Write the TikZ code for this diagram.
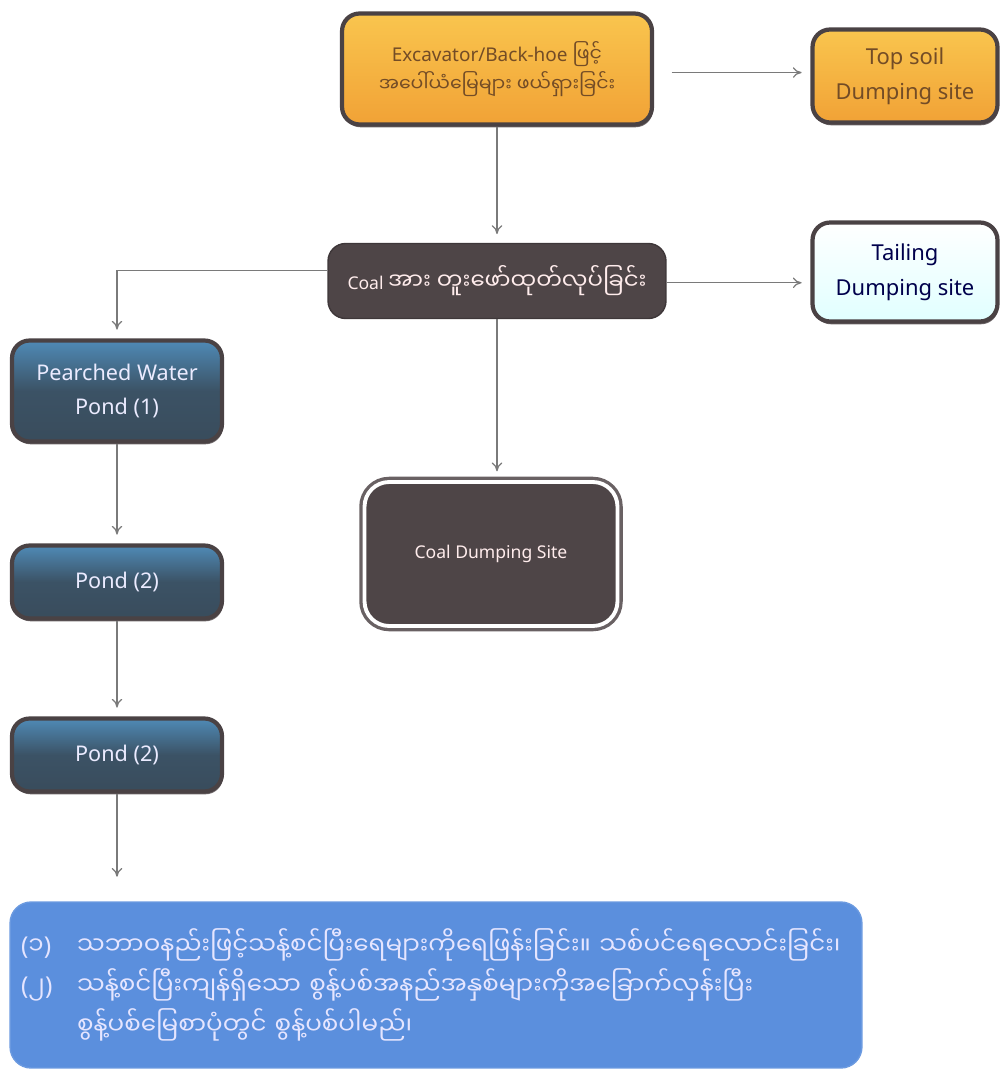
\documentclass[tikz,border=0pt]{standalone}
\usepackage{fontspec}
\setmainfont{Noto Sans}
\newfontfamily\mya[Script=Myanmar]{Noto Sans Myanmar UI}
\newcommand{\lat}[1]{{\rmfamily #1}}
\usetikzlibrary{arrows.meta,shadows}

\definecolor{edgegray}{HTML}{4A4244}
\definecolor{coalbrown}{HTML}{4E4547}
\definecolor{orangetop}{HTML}{F9C54E}
\definecolor{orangebot}{HTML}{F1A236}
\definecolor{pondtop}{HTML}{4F8AB6}
\definecolor{pondbot}{HTML}{394C5C}
\definecolor{notefill}{HTML}{5B8FDD}
\definecolor{linegray}{HTML}{7A7A7A}

\tikzstyle{box}=[rounded corners=10, draw=edgegray, line width=2.4pt, align=center,
  drop shadow={shadow xshift=0.6pt, shadow yshift=-1.6pt, fill=edgegray, opacity=.8}]
\tikzstyle{orangebox}=[box, top color=orangetop, bottom color=orangebot, text=brown!60!black]
\tikzstyle{pondbox}=[box, top color=pondtop, bottom color=pondbot, middle color=pondbot!90!pondtop,
  text=white!92!blue, font=\fontsize{12.3}{19}\selectfont]
\tikzstyle{tailbox}=[box, top color=white, bottom color=cyan!12, text=black!70!blue]
\tikzstyle{coalbox}=[rounded corners=10, fill=coalbrown, draw=coalbrown!80!black, line width=0.8pt, text=pink!30!white, align=center]
\tikzstyle{dumpbox}=[rounded corners=14, fill=coalbrown, draw=white, line width=2.2pt, text=pink!30!white,
  preaction={draw=coalbrown!85!white, line width=6pt}]
\tikzstyle{notebox}=[rounded corners=12, fill=notefill, draw=notefill!90!white, line width=0.8pt, text=white!90!blue, align=left]
\tikzstyle{flow}=[linegray, line width=0.7pt, -{To[length=5pt,width=6pt]}, shorten >=5pt]

\begin{document}
\begin{tikzpicture}[x=0.02cm, y=-0.02cm, font=\fontsize{10}{16}\selectfont]
  \useasboundingbox (0,0) rectangle (1003,1074);
  \node[orangebox, minimum width=6.2cm, minimum height=2.22cm, font=\fontsize{10.8}{17}\selectfont] (exc) at (497,69)
    {Excavator/Back-hoe {\mya ဖြင့်}\\{\mya အပေါ်ယံမြေများ ဖယ်ရှားခြင်း}};
  \node[orangebox, minimum width=3.7cm, minimum height=1.86cm, font=\fontsize{12.5}{20}\selectfont] (top) at (905,76)
    {Top soil\\Dumping site};
  \node[coalbox, minimum width=6.76cm, minimum height=1.5cm] (coal) at (497,281)
    {Coal {\mya\fontsize{13}{16}\selectfont အား တူးဖော်ထုတ်လုပ်ခြင်း}};
  \node[tailbox, minimum width=3.7cm, minimum height=1.98cm, font=\fontsize{12.5}{20}\selectfont] (tail) at (905,272)
    {Tailing\\Dumping site};
  \node[pondbox, minimum width=4.2cm, minimum height=2.02cm] (pw) at (117,391)
    {Pearched Water\\Pond (1)};
  \node[pondbox, minimum width=4.2cm, minimum height=1.46cm] (pondA) at (117,582)
    {Pond (2)};
  \node[pondbox, minimum width=4.2cm, minimum height=1.46cm] (pondB) at (117,755)
    {Pond (2)};
  \node[dumpbox, minimum width=5.06cm, minimum height=2.88cm] (dump) at (491,554)
    {Coal Dumping Site};
  \node[notebox, minimum width=17.04cm, minimum height=3.32cm, inner xsep=6pt, text width=16.6cm,
    font=\mya\fontsize{14}{22.7}\selectfont] (note) at (436,985)
    {\makebox[1.12cm][l]{\lat{(}၁\lat{)}}သဘာဝနည်းဖြင့်သန့်စင်ပြီးရေများကိုရေဖြန်းခြင်း။ သစ်ပင်ရေလောင်းခြင်း၊\\
     \makebox[1.12cm][l]{\lat{(}၂\lat{)}}သန့်စင်ပြီးကျန်ရှိသော စွန့်ပစ်အနည်အနှစ်များကိုအခြောက်လှန်းပြီး\\
     \hspace*{1.12cm}စွန့်ပစ်မြေစာပုံတွင် စွန့်ပစ်ပါမည်၊};

  \draw[flow] ([xshift=10, yshift=-2]exc.east) -- ([yshift=-2]exc.east -| top.west);
  \draw[flow] (exc.south) -- (exc.south |- coal.north);
  \draw[flow] ([yshift=-1]coal.east) -- ([yshift=-1]coal.east -| tail.west);
  \draw[flow] ([yshift=6pt]coal.west) -| (pw.north);
  \draw[flow] (coal.south) -- (coal.south |- dump.north);
  \draw[flow] (pw.south) -- (pondA.north);
  \draw[flow] (pondA.south) -- (pondB.north);
  \draw[flow, shorten >=14pt] (pondB.south) -- (pondB.south |- note.north);
\end{tikzpicture}
\end{document}
